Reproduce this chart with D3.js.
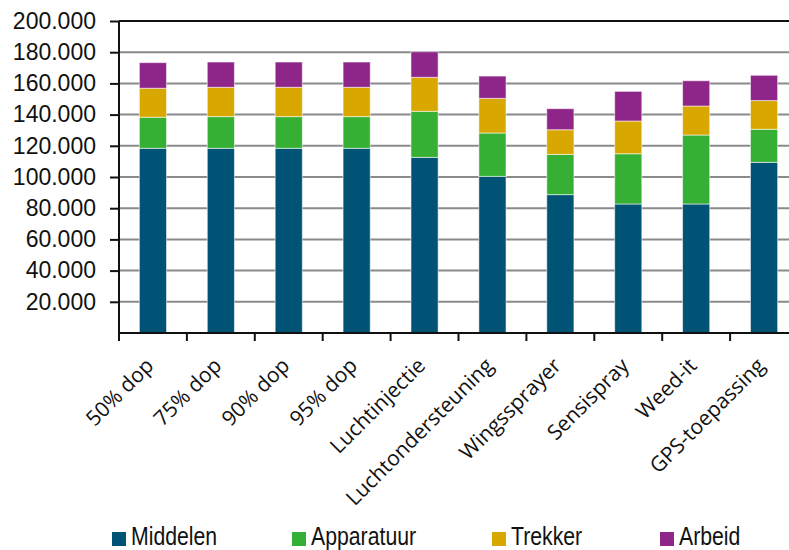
<!DOCTYPE html>
<html>
<head>
<meta charset="utf-8">
<script src="https://cdn.jsdelivr.net/npm/d3@7"></script>
<style>
  html, body { margin: 0; padding: 0; background: #fff; }
  svg { display: block; }
</style>
</head>
<body>
<svg id="chart" width="789" height="550"></svg>
<script>
const categories = ["50% dop", "75% dop", "90% dop", "95% dop", "Luchtinjectie", "Luchtondersteuning", "Wingssprayer", "Sensispray", "Weed-it", "GPS-toepassing"];
const seriesNames = ["Middelen", "Apparatuur", "Trekker", "Arbeid"];
const middelen   = [118400, 118400, 118400, 118400, 112600, 100400, 88700, 82700, 82700, 109400];
const apparatuur = [19900, 20300, 20300, 20300, 29500, 27800, 25800, 32200, 44200, 21200];
const trekker    = [18600, 18800, 18800, 18800, 21800, 22200, 15800, 21000, 18600, 18400];
const arbeid     = [16400, 16200, 16200, 16200, 16400, 14300, 13500, 19000, 16200, 16200];
const yTicks = [20000, 40000, 60000, 80000, 100000, 120000, 140000, 160000, 180000, 200000];
const colors = ["#005374", "#35b035", "#d8a800", "#8e2589"];
const legendX = [112, 292, 492, 660];

(function () {
const seriesValues = [middelen, apparatuur, trekker, arbeid];
const rows = categories.map((c, i) => {
  const r = { cat: c };
  seriesNames.forEach((s, j) => r[s] = seriesValues[j][i]);
  return r;
});

const svg = d3.select("#chart");
const mLeft = 119, mRight = 798, mTop = 21, mBottom = 333;

const x = d3.scaleBand().domain(categories).range([mLeft, mRight]).paddingInner(0.6).paddingOuter(0.3);
const xb = d3.scaleBand().domain(categories).range([mLeft, mRight]);
const y = d3.scaleLinear().domain([0, 200000]).range([mBottom, mTop]);

const loc = d3.formatLocale({ decimal: ",", thousands: ".", grouping: [3], currency: ["€", ""] });
const fmt = loc.format(",d");

// gridlines
svg.append("g").selectAll("line").data(yTicks.slice(0, -1)).join("line")
  .attr("x1", mLeft).attr("x2", mRight)
  .attr("y1", d => y(d)).attr("y2", d => y(d))
  .attr("stroke", "#8a8a8a").attr("stroke-width", 2);
svg.append("line").attr("x1", mLeft).attr("x2", mRight)
  .attr("y1", y(200000)).attr("y2", y(200000))
  .attr("stroke", "#111").attr("stroke-width", 2);

// bars
const stack = d3.stack().keys(seriesNames)(rows);
svg.append("g").selectAll("g").data(stack).join("g")
  .attr("fill", (d, i) => colors[i])
  .selectAll("rect").data(d => d).join("rect")
  .attr("x", d => x(d.data.cat))
  .attr("width", x.bandwidth())
  .attr("y", d => y(d[1]))
  .attr("height", d => y(d[0]) - y(d[1]))
  .attr("stroke", "rgba(255,255,255,0.55)")
  .attr("stroke-width", 1);

// y axis
const yAxis = svg.append("g").attr("transform", `translate(${mLeft},0)`)
  .call(d3.axisLeft(y).tickValues(yTicks).tickFormat(fmt).tickSize(9).tickPadding(14).tickSizeOuter(0));
yAxis.select(".domain").attr("stroke", "#111").attr("stroke-width", 2).attr("d", `M0,${y(200000)}V${mBottom}`);
yAxis.selectAll(".tick line").attr("stroke", "#111").attr("stroke-width", 2);
yAxis.selectAll(".tick text").attr("font-family", "'Liberation Sans', Arial, sans-serif")
  .attr("font-size", 23).attr("fill", "#111");

// x axis
svg.append("line").attr("x1", mLeft).attr("x2", mRight).attr("y1", mBottom).attr("y2", mBottom)
  .attr("stroke", "#111").attr("stroke-width", 2);
svg.append("g").selectAll("line").data(categories).join("line")
  .attr("x1", d => xb(d)).attr("x2", d => xb(d))
  .attr("y1", mBottom).attr("y2", mBottom + 8)
  .attr("stroke", "#111").attr("stroke-width", 2);
svg.append("g").selectAll("text").data(categories).join("text")
  .attr("transform", d => `translate(${xb(d) + xb.bandwidth() / 2 + 2},${mBottom + 34}) rotate(-45)`)
  .attr("text-anchor", "end")
  .attr("font-family", "'Open Sans', 'Noto Sans', sans-serif")
  .attr("font-size", 21).attr("fill", "#111")
  .text(d => d);

// legend
const lg = svg.append("g").selectAll("g").data(seriesNames).join("g")
  .attr("transform", (d, i) => `translate(${legendX[i]},0)`);
lg.append("rect").attr("x", 0).attr("y", 532).attr("width", 14).attr("height", 14)
  .attr("fill", (d, i) => colors[i]);
lg.append("text").attr("transform", "translate(19,544.5) scale(0.85,1)")
  .attr("font-family", "'Liberation Sans', Arial, sans-serif")
  .attr("font-size", 25).attr("fill", "#111")
  .text(d => d);
})();
</script>
</body>
</html>
